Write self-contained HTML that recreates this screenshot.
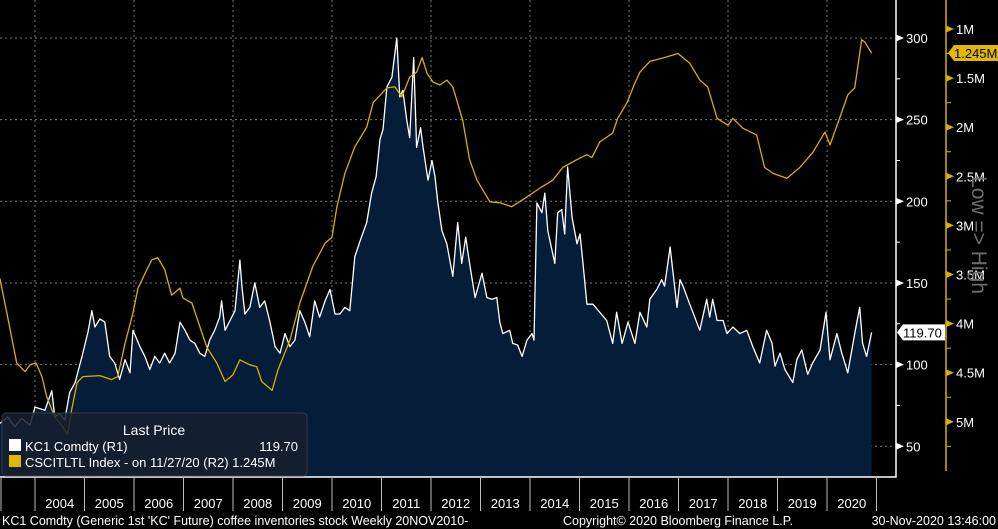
<!DOCTYPE html>
<html><head><meta charset="utf-8"><style>
html,body{margin:0;padding:0;background:#000;}
body{width:998px;height:529px;overflow:hidden;position:relative;font-family:"Liberation Sans",sans-serif;}
svg{position:absolute;left:0;top:0;}
text{font-family:"Liberation Sans",sans-serif;}
</style></head><body>
<svg id="chart" width="998" height="529" viewBox="0 0 998 529" xmlns="http://www.w3.org/2000/svg">
<g id="grid"></g>
<g id="series"></g>
<g id="axes"></g>
<g>
<rect x="2" y="413" width="305" height="63" rx="4" fill="rgba(22,32,44,0.86)" stroke="#333a44"/>
<text x="154" y="435" fill="#fff" font-size="14" text-anchor="middle">Last Price</text>
<rect x="9" y="439" width="12" height="12" fill="#fff"/>
<text x="25" y="451" fill="#fff" font-size="13">KC1 Comdty  (R1)</text>
<text x="298" y="451" fill="#fff" font-size="13" text-anchor="end">119.70</text>
<rect x="9" y="455" width="12" height="12" fill="#e0b800"/>
<text x="25" y="467" fill="#fff" font-size="13">CSCITLTL Index -  on 11/27/20  (R2) 1.245M</text>
</g>
<text x="0" y="0" transform="translate(972,235) rotate(90)" fill="#6e6e6e" font-size="21" text-anchor="middle">Low =&gt; High</text>
<text x="2" y="525" fill="#fff" font-size="12.5">KC1 Comdty (Generic 1st 'KC' Future) coffee inventories stock  Weekly 20NOV2010-</text>
<text x="563" y="525" fill="#fff" font-size="12.5">Copyright© 2020 Bloomberg Finance L.P.</text>
<text x="996" y="525" fill="#fff" font-size="12.5" text-anchor="end">30-Nov-2020 13:46:00</text>
</svg>
<script>
const coffeeDates=[2003.29,2003.45,2003.59,2003.73,2003.90,2004.00,2004.20,2004.34,2004.40,2004.50,2004.60,2004.70,2004.81,2004.95,2005.07,2005.15,2005.21,2005.31,2005.41,2005.51,2005.61,2005.71,2005.82,2005.92,2005.98,2006.12,2006.22,2006.32,2006.42,2006.52,2006.62,2006.72,2006.83,2006.93,2007.03,2007.13,2007.23,2007.33,2007.43,2007.53,2007.63,2007.73,2007.77,2007.84,2007.94,2008.04,2008.14,2008.18,2008.24,2008.34,2008.44,2008.54,2008.64,2008.74,2008.85,2008.95,2009.05,2009.15,2009.25,2009.35,2009.45,2009.55,2009.65,2009.75,2009.86,2009.96,2010.06,2010.16,2010.26,2010.36,2010.46,2010.56,2010.70,2010.80,2010.89,2010.97,2011.03,2011.11,2011.21,2011.31,2011.37,2011.43,2011.51,2011.57,2011.65,2011.71,2011.79,2011.84,2011.94,2012.02,2012.08,2012.14,2012.22,2012.32,2012.44,2012.54,2012.62,2012.70,2012.78,2012.89,2013.03,2013.13,2013.23,2013.33,2013.39,2013.45,2013.59,2013.65,2013.75,2013.84,2013.94,2014.04,2014.08,2014.14,2014.24,2014.30,2014.36,2014.50,2014.56,2014.64,2014.70,2014.76,2014.85,2014.95,2015.01,2015.07,2015.15,2015.27,2015.41,2015.55,2015.67,2015.75,2015.86,2015.98,2016.12,2016.22,2016.36,2016.42,2016.56,2016.66,2016.72,2016.83,2016.89,2016.97,2017.03,2017.09,2017.19,2017.29,2017.43,2017.57,2017.63,2017.69,2017.78,2017.90,2017.98,2018.10,2018.24,2018.38,2018.50,2018.64,2018.78,2018.89,2018.95,2019.05,2019.15,2019.31,2019.39,2019.49,2019.61,2019.71,2019.86,2019.98,2020.06,2020.20,2020.30,2020.42,2020.56,2020.66,2020.72,2020.80,2020.90];
const coffeePrices=[64,68,62,67,63,74,72,84,68,70,66,83,89,105,120,133,123,128,126,105,101,91,103,95,121,111,105,97,105,101,107,101,107,126,121,115,113,107,105,115,121,129,139,121,127,133,164,148,131,135,150,135,139,127,111,107,119,111,115,133,126,117,139,129,139,146,131,131,135,133,166,175,187,205,215,238,244,270,276,300,264,268,250,239,288,233,245,233,213,225,215,199,182,174,154,187,162,178,162,141,156,141,140,141,126,119,121,113,112,105,115,119,115,199,193,205,182,162,193,195,180,221,190,174,180,162,137,137,132,127,113,132,113,126,113,132,123,140,146,152,148,172,156,135,152,148,140,132,121,140,129,140,127,127,119,123,119,121,111,101,121,113,99,107,97,89,103,109,94,101,109,132,103,119,107,95,119,135,113,105,119.7];
const invDates=[2003.29,2003.43,2003.63,2003.80,2003.90,2004.02,2004.14,2004.24,2004.40,2004.56,2004.66,2004.74,2004.85,2004.97,2005.31,2005.55,2005.67,2005.82,2005.98,2006.08,2006.26,2006.36,2006.48,2006.62,2006.76,2006.93,2006.99,2007.17,2007.33,2007.47,2007.67,2007.84,2008.00,2008.14,2008.34,2008.48,2008.58,2008.79,2008.91,2009.15,2009.35,2009.61,2009.86,2010.00,2010.10,2010.26,2010.46,2010.70,2010.83,2011.11,2011.27,2011.41,2011.57,2011.71,2011.82,2011.92,2012.04,2012.18,2012.32,2012.44,2012.64,2012.78,2012.93,2013.19,2013.39,2013.63,2013.94,2014.20,2014.46,2014.66,2014.95,2015.15,2015.25,2015.41,2015.67,2015.77,2015.96,2016.12,2016.22,2016.42,2016.72,2016.99,2017.23,2017.43,2017.59,2017.78,2018.00,2018.10,2018.30,2018.58,2018.74,2018.91,2019.19,2019.45,2019.71,2019.96,2020.06,2020.26,2020.42,2020.56,2020.70,2020.76,2020.90];
const invMillions=[3.54,3.89,4.40,4.49,4.42,4.40,4.54,4.75,4.95,5.05,5.13,4.88,4.60,4.54,4.53,4.57,4.54,4.20,3.89,3.64,3.45,3.35,3.33,3.45,3.71,3.64,3.74,3.79,4.03,4.24,4.40,4.59,4.52,4.37,4.42,4.44,4.59,4.68,4.47,4.17,3.79,3.42,3.18,3.12,2.81,2.47,2.20,2.00,1.75,1.60,1.59,1.69,1.49,1.44,1.29,1.45,1.54,1.57,1.52,1.59,1.93,2.33,2.54,2.76,2.77,2.81,2.71,2.62,2.54,2.41,2.33,2.28,2.31,2.15,2.06,1.91,1.75,1.55,1.44,1.33,1.29,1.25,1.35,1.52,1.59,1.91,1.98,1.91,2.01,2.08,2.41,2.47,2.52,2.41,2.26,2.05,2.18,1.90,1.67,1.60,1.11,1.13,1.245];
const yearLabels=["2004","2005","2006","2007","2008","2009","2010","2011","2012","2013","2014","2015","2016","2017","2018","2019","2020"];
const leftTicks=[50,100,150,200,250,300];
const rightTickLabels=["1M","1.5M","2M","2.5M","3M","3.5M","4M","4.5M","5M"];
const rightTicks=[1,1.5,2,2.5,3,3.5,4,4.5,5];

const NS="http://www.w3.org/2000/svg";
const PL=0,PR=896,PT=0,PB=477;
function xs(yr){return 35+(yr-2004)*49.5;}
function yl(v){return 38+(300-v)*1.633;}
function yr(m){return 29+(m-1)*98.2;}
function mk(tag,attrs,parent){const e=document.createElementNS(NS,tag);for(const k in attrs)e.setAttribute(k,attrs[k]);parent.appendChild(e);return e;}
const grid=document.getElementById('grid'),series=document.getElementById('series'),axes=document.getElementById('axes');

// horizontal grid
leftTicks.forEach(v=>{const l=mk('line',{x1:PL,x2:PR,y1:yl(v),y2:yl(v),stroke:'#7a7a7a','stroke-dasharray':'2,3','stroke-width':1},grid);

});
// vertical grid every 2 years
for(let y=2004;y<=2020;y+=2){const l=mk('line',{x1:xs(y),x2:xs(y),y1:PT,y2:PB,stroke:'#7a7a7a','stroke-dasharray':'2,3','stroke-width':1},grid);

}

// coffee area
let d='M'+xs(coffeeDates[0]).toFixed(1)+','+PB;
coffeeDates.forEach((t,i)=>{d+=' L'+xs(t).toFixed(1)+','+yl(coffeePrices[i]).toFixed(1);});
d+=' L'+xs(coffeeDates[coffeeDates.length-1]).toFixed(1)+','+PB+' Z';
const area=mk('path',{d:d,fill:'#051d38'},series);


let dl='';
coffeeDates.forEach((t,i)=>{dl+=(i?' L':'M')+xs(t).toFixed(1)+','+yl(coffeePrices[i]).toFixed(1);});
const cl=mk('path',{d:dl,fill:'none',stroke:'#fff','stroke-width':1.3,'stroke-linejoin':'round'},series);


// inventory line
let di='';
invDates.forEach((t,i)=>{di+=(i?' L':'M')+xs(t).toFixed(1)+','+yr(invMillions[i]).toFixed(1);});
const il=mk('path',{d:di,fill:'none',stroke:'#d9b000','stroke-width':1.3,'stroke-linejoin':'round'},series);



// axes frame
const fr=mk('path',{d:'M0,'+PB+' L'+PR+','+PB+' L'+PR+',0',fill:'none',stroke:'#fff','stroke-width':1.5},axes);


// year ticks & labels
for(let i=0;i<=yearLabels.length;i++){const x=xs(2004+i);const t=mk('line',{x1:x,x2:x,y1:PB,y2:511,stroke:'#bbb','stroke-width':1},axes);

}
const pre=mk('line',{x1:1,x2:1,y1:PB,y2:511,stroke:'#bbb'},axes);


yearLabels.forEach((lab,i)=>{const t=mk('text',{x:xs(2004+i)+24.75,y:508,fill:'#fff','font-size':13,'text-anchor':'middle'},axes);t.textContent=lab;

});
// left (R1) axis ticks
leftTicks.forEach(v=>{const y=yl(v);const p=mk('path',{d:`M${PR},${y-3.5} L${PR+8},${y} L${PR},${y+3.5} Z`,fill:'#fff'},axes);


const t=mk('text',{x:PR+10,y:y+5,fill:'#fff','font-size':13},axes);t.textContent=v;


const m=mk('line',{x1:PR,x2:PR+4,y1:yl(v+25),y2:yl(v+25),stroke:'#fff'},axes);

});
// right (R2) axis
const ra=mk('line',{x1:946,x2:946,y1:0,y2:471,stroke:'#d9b000','stroke-width':1.5},axes);


rightTicks.forEach((v,i)=>{const y=yr(v);const p=mk('path',{d:`M946,${y-3.5} L954,${y} L946,${y+3.5} Z`,fill:'#d9b000'},axes);


const t=mk('text',{x:956,y:y+5,fill:'#fff','font-size':13},axes);t.textContent=rightTickLabels[i];


const m=mk('line',{x1:946,x2:951,y1:yr(v+0.25),y2:yr(v+0.25),stroke:'#d9b000'},axes);

});
// last value tags
const lastC=coffeePrices[coffeePrices.length-1],yc=yl(lastC);
const tg=mk('path',{d:`M897,${yc} L903,${yc-8} L945,${yc-8} L945,${yc+8} L903,${yc+8} Z`,fill:'#fff'},axes);


const tt=mk('text',{x:903,y:yc+5,fill:'#000','font-size':13},axes);tt.textContent=lastC.toFixed(2);


const lastI=invMillions[invMillions.length-1],yi=yr(lastI);
const tg2=mk('path',{d:`M948,${yi} L954,${yi-8} L998,${yi-8} L998,${yi+8} L954,${yi+8} Z`,fill:'#e0b800'},axes);


const tt2=mk('text',{x:954,y:yi+5,fill:'#000','font-size':13},axes);tt2.textContent=lastI.toFixed(3)+'M';


</script>
</body></html>
